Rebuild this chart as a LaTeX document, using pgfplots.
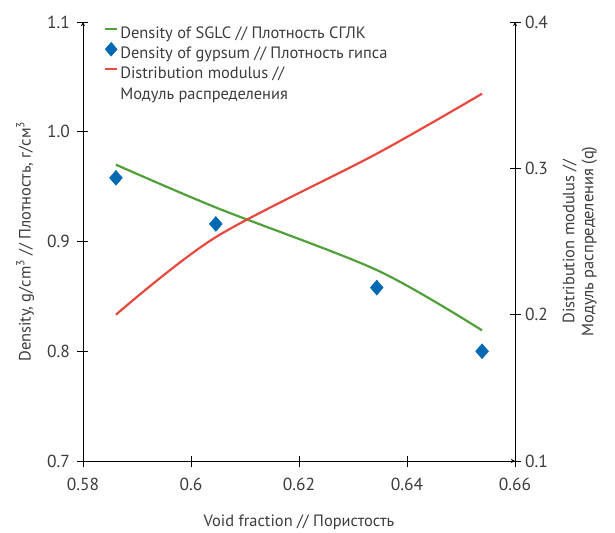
\documentclass[border=0pt]{standalone}
\usepackage{pgfplots}
\pgfplotsset{compat=1.18}
\usepackage{fontspec}
\setmainfont{PT Sans}
\definecolor{tgreen}{RGB}{80,160,58}
\definecolor{tred}{RGB}{232,72,62}
\definecolor{tblue}{RGB}{0,105,180}
\definecolor{tgray}{RGB}{60,60,60}
\pgfplotsset{
  mylinelegend/.style={legend image code/.code={\draw[##1, line width=2.2pt] (0bp,4.2bp) -- (12bp,4.2bp);}},
  mymarklegend/.style={legend image code/.code={\begin{pgfinterruptboundingbox}\draw[##1] plot coordinates {(6bp,4.2bp)};\end{pgfinterruptboundingbox}\path[draw=none,fill=none] (0bp,2bp) rectangle (12bp,7bp);}},
}
\begin{document}
\begin{tikzpicture}
\path[use as bounding box] (-83bp,-72bp) rectangle (532bp,461bp);
\pgfplotsset{every axis/.append style={
  scale only axis, width=432bp, height=439bp,
  at={(0,0)}, anchor=south west,
  xmin=0.58, xmax=0.66,
  axis line style={-, black, line width=0.9pt},
  tick align=center, major tick length=11bp,
  tick style={black, line width=0.9pt},
  /pgf/number format/assume math mode=true,
  ticklabel style={font=\fontsize{17.5}{20}\selectfont, text=tgray},
  label style={font=\fontsize{16.5}{19}\selectfont, text=tgray},
}}
\begin{axis}[
  ymin=0.7, ymax=1.1,
  axis x line=bottom, axis y line=left,
  xtick={0.58,0.6,0.62,0.64,0.66},
  ytick={0.7,0.8,0.9,1.0,1.1},
  xticklabel style={/pgf/number format/fixed, /pgf/number format/precision=2, yshift=-8bp},
  yticklabel style={/pgf/number format/fixed, /pgf/number format/precision=1, /pgf/number format/fixed zerofill, xshift=-4bp},
  xlabel={Void fraction // Пористость},
  xlabel style={at={(axis description cs:0.5,-0.139)}, anchor=center},
  ylabel={Density, g/cm\textsuperscript{3} // Плотность, г/см\textsuperscript{3}},
  ylabel style={at={(axis description cs:-0.134,0.5)}, anchor=center},
  legend style={at={(axis description cs:0.046,0.9965)}, anchor=north west, draw=none, fill=none,
    font=\fontsize{16.5}{21}\selectfont, text=tgray,
    cells={anchor=base west, text height=12bp, text depth=4bp},
    row sep=2.5bp, inner sep=1pt},
  legend cell align=left,
]
\addlegendimage{tgreen, mylinelegend}
\addlegendentry{Density of SGLC // Плотность СГЛК}
\addlegendimage{only marks, mark=diamond*, mark size=7bp, mark options={xscale=1.15}, color=tblue, mymarklegend}
\addlegendentry{Density of gypsum // Плотность гипса}
\addlegendimage{tred, mylinelegend}
\addlegendentry{\begin{tabular}[t]{@{}l@{}}Distribution modulus //\\Модуль распределения\end{tabular}}
\addplot[tgreen, line width=2.2pt, smooth, forget plot] coordinates {
(0.5861,0.970) (0.6046,0.931) (0.6344,0.874) (0.6539,0.819)};
\addplot[only marks, mark=diamond*, mark size=7.5bp, mark options={xscale=1.15}, color=tblue, forget plot] coordinates {
(0.5861,0.958) (0.6046,0.916) (0.6344,0.858) (0.6539,0.800)};
\end{axis}
\begin{axis}[
  ymin=0.1, ymax=0.4,
  axis x line=none, axis y line=right,
  ytick={0.1,0.2,0.3,0.4},
  yticklabel style={/pgf/number format/fixed, /pgf/number format/precision=1, /pgf/number format/fixed zerofill, xshift=1bp},
  ylabel={Distribution modulus //\\Модуль распределения (q)},
  ylabel style={at={(axis description cs:1.150,0.5)}, anchor=center, align=center,
    font=\fontsize{16.5}{19}\selectfont, text=tgray},
]
\addplot[tred, line width=2.2pt, smooth] coordinates {
(0.5861,0.200) (0.6046,0.253) (0.6344,0.310) (0.6539,0.351)};
\end{axis}
\end{tikzpicture}
\end{document}
